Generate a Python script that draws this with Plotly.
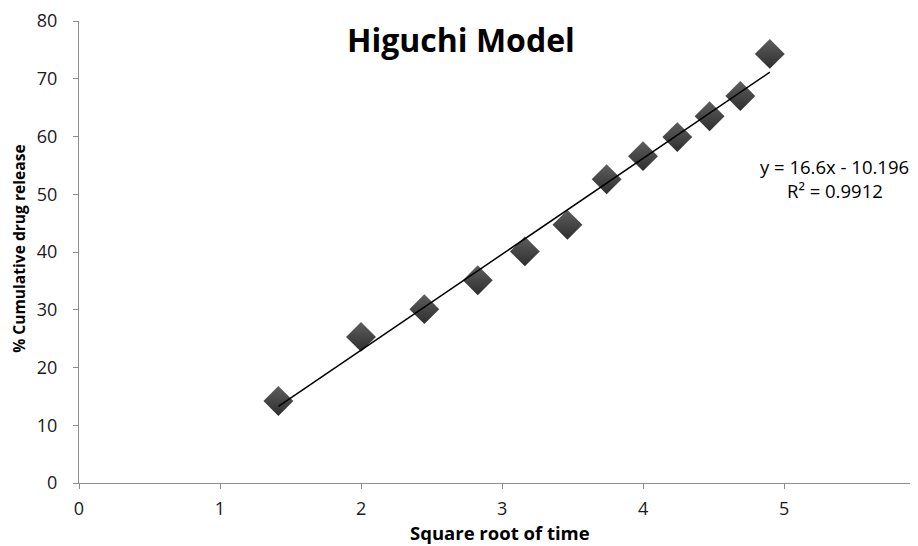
import plotly.graph_objects as go

# Data
sqrt_time = [1.414, 2.0, 2.449, 2.828, 3.162, 3.464, 3.742, 4.0, 4.243, 4.472, 4.690, 4.899]
release = [14.2, 25.3, 30.1, 35.1, 40.1, 44.7, 52.6, 56.6, 59.9, 63.5, 67.0, 74.3]
slope = 16.6
intercept = -10.196
r_squared = 0.9912
x_ticks = [0, 1, 2, 3, 4, 5, 6]
y_ticks = [0, 10, 20, 30, 40, 50, 60, 70, 80]

FONT = "Open Sans"

trend_x = [min(sqrt_time), max(sqrt_time)]
trend_y = [slope * v + intercept for v in trend_x]

fig = go.Figure()
fig.add_trace(go.Scatter(
    x=sqrt_time, y=release, mode="markers",
    marker=dict(symbol="diamond", size=23, color="#5e5e5e",
                gradient=dict(type="vertical", color="#2e2e2e"),
                line=dict(width=0)),
    showlegend=False,
))
fig.add_trace(go.Scatter(
    x=trend_x, y=trend_y, mode="lines",
    line=dict(color="black", width=1.5), showlegend=False,
))

axis_common = dict(showgrid=False, zeroline=False, showline=True, automargin=False,
                   linecolor="#8c8c8c", linewidth=1.3, ticks="outside",
                   ticklen=5, tickcolor="#8c8c8c",
                   tickfont=dict(family=FONT, size=18, color="#1a1a1a"))

# note: the page body has an 8px margin, margins below compensate for it
fig.update_layout(
    width=918, height=546,
    margin=dict(l=71, r=8, t=13, b=71),
    plot_bgcolor="white", paper_bgcolor="white",
    xaxis=dict(range=[0, 5.95], tickvals=x_ticks, ticklabelstandoff=4, **axis_common),
    yaxis=dict(range=[0, 80], tickvals=y_ticks, ticklabelstandoff=12, **axis_common),
    font=dict(family=FONT),
)

fig.add_annotation(text="<b>Higuchi Model</b>", xref="paper", yref="paper",
                   x=0.455, y=0.959, xanchor="center", yanchor="middle", showarrow=False,
                   font=dict(family=FONT, size=32, color="black"))
fig.add_annotation(text=f"y = {slope}x - {abs(intercept)}", xref="paper", yref="paper",
                   x=0.901, y=0.684, xanchor="center", yanchor="middle", showarrow=False,
                   font=dict(family=FONT, size=18.5, color="black"))
fig.add_annotation(text=f"R² = {r_squared}", xref="paper", yref="paper",
                   x=0.901, y=0.634, xanchor="center", yanchor="middle", showarrow=False,
                   font=dict(family=FONT, size=18.5, color="black"))
fig.add_annotation(text="<b>Square root of time</b>", xref="paper", yref="paper",
                   x=0.502, y=-0.108, xanchor="center", yanchor="middle", showarrow=False,
                   font=dict(family=FONT, size=18.5, color="black"))
fig.add_annotation(text="<b>% Cumulative drug release</b>", xref="paper", yref="paper",
                   x=-0.0715, y=0.507, xanchor="center", yanchor="middle",
                   textangle=-90, showarrow=False,
                   font=dict(family=FONT, size=15.6, color="black"))
fig.add_annotation(text="6", xref="paper", yref="paper",
                   x=0.9965, y=-0.02, yanchor="top", xanchor="center", showarrow=False,
                   font=dict(family=FONT, size=18, color="#1a1a1a"))

fig.write_html("out.html")
